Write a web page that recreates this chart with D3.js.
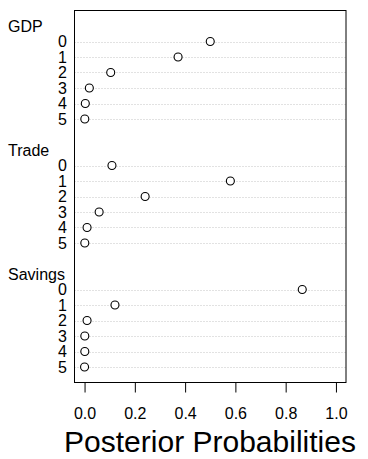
<!DOCTYPE html>
<html>
<head>
<meta charset="utf-8">
<script src="https://cdn.jsdelivr.net/npm/d3@7"></script>
<style>
  html, body { margin: 0; padding: 0; background: #fff; }
  svg { display: block; font-family: "Liberation Sans", Arial, Helvetica, sans-serif; }
</style>
</head>
<body>
<svg id="chart" width="368" height="459"></svg>
<script>
// Posterior probabilities of the number of lags for each variable
const groups = ["GDP", "Trade", "Savings"];
const lagLabels = ["0", "1", "2", "3", "4", "5"];
const gdpProb = [0.500, 0.372, 0.104, 0.019, 0.003, 0.001];
const tradeProb = [0.109, 0.580, 0.241, 0.058, 0.010, 0.001];
const savingsProb = [0.866, 0.121, 0.010, 0.001, 0.001, 0.000];
const xTicks = [0, 0.2, 0.4, 0.6, 0.8, 1.0];
const xTitle = "Posterior Probabilities";

const seriesByGroup = [gdpProb, tradeProb, savingsProb];

// Lay out rows from the bottom up, dotchart-style: items, then group label, then a gap
const rows = [];
const headers = [];
let pos = 0;
for (let g = groups.length - 1; g >= 0; g--) {
  const vals = seriesByGroup[g];
  for (let i = vals.length - 1; i >= 0; i--) {
    pos += 1;
    rows.push({ group: groups[g], label: lagLabels[i], value: vals[i], pos });
  }
  pos += 1;
  headers.push({ label: groups[g], pos });
  pos += 1;
}
const nRows = pos; // top edge of the plotting region

const svg = d3.select("#chart");
const box = { left: 74.5, right: 346, top: 10.5, bottom: 382.5 };

const x = d3.scaleLinear().domain([-0.04, 1.04]).range([box.left, box.right]);
const y = d3.scaleLinear().domain([0, nRows]).range([box.bottom, box.top]);

// dotted guide lines for each row
svg.append("g")
  .selectAll("line")
  .data(rows)
  .join("line")
  .attr("x1", box.left)
  .attr("x2", box.right)
  .attr("y1", d => Math.round(y(d.pos)) + 0.5)
  .attr("y2", d => Math.round(y(d.pos)) + 0.5)
  .attr("stroke", "#c4c4c4")
  .attr("stroke-width", 1)
  .attr("stroke-dasharray", "1,2");

// points
svg.append("g")
  .selectAll("circle")
  .data(rows)
  .join("circle")
  .attr("cx", d => x(d.value))
  .attr("cy", d => y(d.pos))
  .attr("r", 4)
  .attr("fill", "#fff")
  .attr("stroke", "#000")
  .attr("stroke-width", 1.1);

// frame
svg.append("rect")
  .attr("x", box.left)
  .attr("y", box.top)
  .attr("width", box.right - box.left)
  .attr("height", box.bottom - box.top)
  .attr("fill", "none")
  .attr("stroke", "#000")
  .attr("stroke-width", 1);

// row labels
svg.append("g")
  .selectAll("text")
  .data(rows)
  .join("text")
  .attr("x", 67)
  .attr("y", d => y(d.pos))
  .attr("dy", "0.37em")
  .attr("text-anchor", "end")
  .attr("font-size", 16)
  .attr("fill", "#000")
  .text(d => d.label);

// group labels
svg.append("g")
  .selectAll("text")
  .data(headers)
  .join("text")
  .attr("x", 8)
  .attr("y", d => y(d.pos))
  .attr("dy", "0.37em")
  .attr("text-anchor", "start")
  .attr("font-size", 16)
  .attr("fill", "#000")
  .text(d => d.label);

// x axis
const axis = d3.axisBottom(x)
  .tickValues(xTicks)
  .tickFormat(d3.format(".1f"))
  .tickSize(10)
  .tickPadding(15);
const gx = svg.append("g")
  .attr("transform", `translate(0,${box.bottom})`)
  .call(axis);
gx.select(".domain").remove();
gx.selectAll(".tick line").attr("stroke", "#000");
gx.selectAll(".tick text")
  .attr("font-size", 16)
  .attr("font-family", "Liberation Sans, Arial, sans-serif")
  .attr("fill", "#000");

// axis title
svg.append("text")
  .attr("x", 210)
  .attr("y", 452)
  .attr("text-anchor", "middle")
  .attr("font-size", 30)
  .attr("fill", "#000")
  .text(xTitle);
</script>
</body>
</html>
